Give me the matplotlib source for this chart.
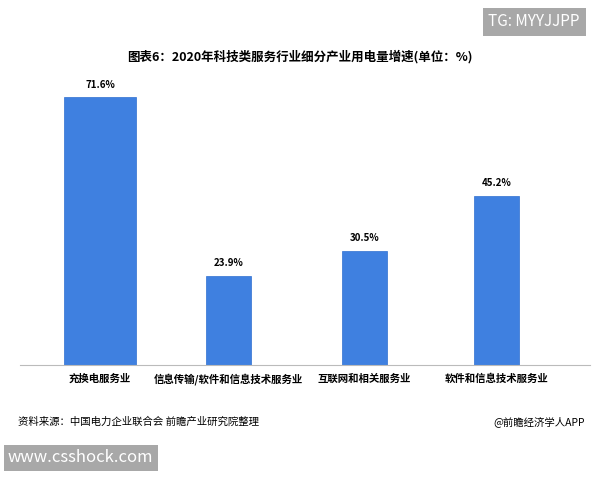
import matplotlib.pyplot as plt

plt.rcParams['font.family'] = ['Noto Sans CJK SC', 'DejaVu Sans']

categories = ["充换电服务业", "信息传输/软件和信息技术服务业", "互联网和相关服务业", "软件和信息技术服务业"]
values = [71.6, 23.9, 30.5, 45.2]
labels = ["71.6%", "23.9%", "30.5%", "45.2%"]
widths = [0.54, 0.34, 0.34, 0.34]
positions = [0, 0.97, 2.0, 3.0]

fig = plt.figure(figsize=(6, 4.8), dpi=100)
ax = fig.add_axes([20 / 600, 1 - 365 / 480, 570 / 600, 290 / 480])
ax.bar(positions, values, width=widths, color="#3f80e0", edgecolor="#2f6fd0", linewidth=0.5)
for xi, v, lab in zip(positions, values, labels):
    ax.text(xi, v + 2, lab, ha="center", va="bottom", fontsize=7, fontweight="bold")
ax.set_xlim(-0.606, 3.71)
ax.set_ylim(0, 77.5)
for s in ["top", "right", "left"]:
    ax.spines[s].set_visible(False)
ax.spines["bottom"].set_color("#bbbbbb")
ax.set_yticks([])
ax.set_xticks(positions)
ax.set_xticklabels(categories, fontsize=7.5, fontweight="bold")
ax.tick_params(axis="x", length=0, pad=6)

fig.text(0.5, 1 - 57 / 480, "图表6：2020年科技类服务行业细分产业用电量增速(单位：%)",
         ha="center", va="center", fontsize=9, fontweight="bold")
fig.text(18 / 600, 1 - 422 / 480, "资料来源：中国电力企业联合会 前瞻产业研究院整理", fontsize=7.5, va="center")
fig.text(585 / 600, 1 - 422 / 480, "@前瞻经济学人APP", fontsize=7.5, va="center", ha="right")
fig.text(580 / 600, 1 - 22 / 480, "TG: MYYJJPP", fontsize=11, color="white", ha="right", va="center",
         bbox=dict(facecolor="#a8a8a8", edgecolor="none", pad=4))
fig.text(8 / 600, 1 - 458 / 480, "www.csshock.com", fontsize=12, color="white", ha="left", va="center",
         bbox=dict(facecolor="#a8a8a8", edgecolor="none", pad=3))

fig.savefig("out.png", dpi=100)
